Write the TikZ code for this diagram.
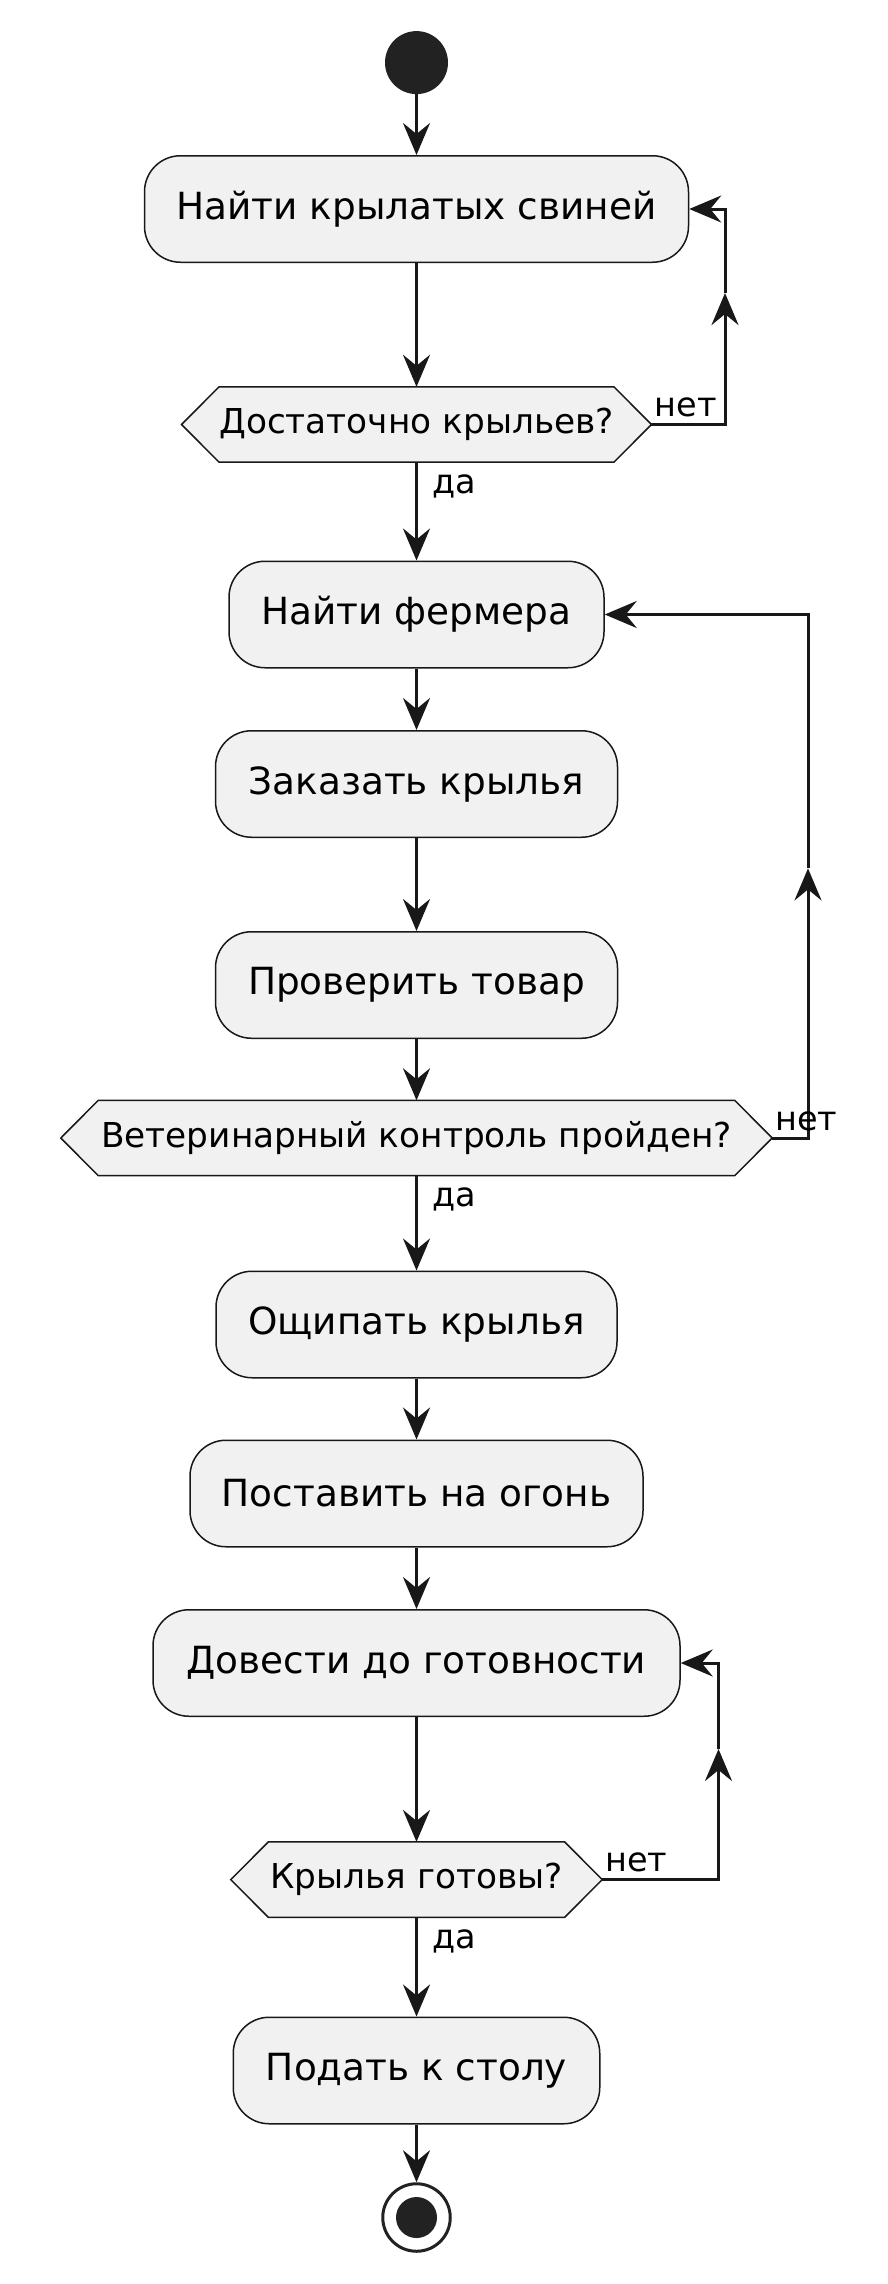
\documentclass[tikz,border=0pt]{standalone}
\usepackage{fontspec}
\setmainfont{DejaVu Sans}
\usetikzlibrary{arrows.meta,backgrounds,calc}
\definecolor{boxfill}{HTML}{F1F1F1}
\definecolor{ink}{HTML}{181818}
\definecolor{dot}{HTML}{222222}
\begin{document}
\begin{tikzpicture}[x=1pt,y=-1pt,
  act/.style={draw=ink, line width=1.5pt, fill=boxfill, rounded corners=36pt, minimum height=106.5pt, inner sep=0pt, font=\fontsize{37.4}{44}\selectfont, text=black},
  dec/.style={minimum height=75pt, inner sep=0pt, font=\fontsize{34.3}{40}\selectfont, text=black},
  hex/.style={draw=ink, line width=1.5pt, fill=boxfill, line join=miter},
  conn/.style={draw=ink, line width=3pt, -{Stealth[length=32pt,width=27pt,inset=11pt]}},
  wire/.style={draw=ink, line width=3pt},
  lab/.style={font=\fontsize{33.5}{40}\selectfont, inner sep=0pt, text=black},
]
\useasboundingbox (0,0) rectangle (888,2284);

\node[circle, fill=dot, minimum size=63pt, inner sep=0pt] (start) at (416.5,62.6) {};
\node[act, minimum width=544pt] (b1) at (416.5,209) {Найти крылатых свиней};
\node[dec, minimum width=469.5pt] (d1) at (416.5,424.5) {Достаточно крыльев?};
\node[act, minimum width=375pt] (b2) at (416.5,614.5) {Найти фермера};
\node[act, minimum width=402pt] (b3) at (416.5,784) {Заказать крылья};
\node[act, minimum width=402pt] (b4) at (416.5,985) {Проверить товар};
\node[dec, minimum width=711pt] (d2) at (416.5,1138) {Ветеринарный контроль пройден?};
\node[act, minimum width=401pt] (b5) at (416.5,1324.5) {Ощипать крылья};
\node[act, minimum width=453pt] (b6) at (416.5,1493.5) {Поставить на огонь};
\node[act, minimum width=527pt] (b7) at (416.5,1663) {Довести до готовности};
\node[dec, minimum width=371pt] (d3) at (416.5,1879.6) {Крылья готовы?};
\node[act, minimum width=366.5pt] (b8) at (416.5,2070.5) {Подать к столу};
\node[circle, draw=dot, line width=3pt, fill=white, minimum size=67.5pt, inner sep=0pt] (end) at (416.5,2217.5) {};
\node[circle, fill=dot, minimum size=41pt, inner sep=0pt] (endin) at (end) {};

\begin{scope}[on background layer]
  \fill[white] (0,0) rectangle (888,2284);
  \foreach \d in {d1,d2,d3}
    \draw[hex] (\d.west) -- ([xshift=37.5pt]\d.north west) -- ([xshift=-37.5pt]\d.north east) -- (\d.east) -- ([xshift=-37.5pt]\d.south east) -- ([xshift=37.5pt]\d.south west) -- cycle;
\end{scope}

% main flow
\draw[conn] (start) -- (b1);
\draw[conn] (b1) -- (d1);
\draw[conn] (d1) -- (b2);
\draw[conn] (b2) -- (b3);
\draw[conn] (b3) -- (b4);
\draw[conn] (b4) -- (d2);
\draw[conn] (d2) -- (b5);
\draw[conn] (b5) -- (b6);
\draw[conn] (b6) -- (b7);
\draw[conn] (b7) -- (d3);
\draw[conn] (d3) -- (b8);
\draw[conn] (b8) -- (end);

% loops
\coordinate (x1) at (725,0);
\coordinate (x2) at (808,0);
\coordinate (x3) at (718.5,0);
\coordinate (m1) at ($(d1.east -| x1)!0.61!(b1.east -| x1)$);
\coordinate (m2) at ($(d2.east -| x2)!0.515!(b2.east -| x2)$);
\coordinate (m3) at ($(d3.east -| x3)!0.603!(b7.east -| x3)$);
\draw[conn] (d1.east) -- (d1.east -| x1) -- (m1);
\draw[conn] (m1) -- (b1.east -| x1) -- (b1.east);
\draw[conn] (d2.east) -- (d2.east -| x2) -- (m2);
\draw[conn] (m2) -- (b2.east -| x2) -- (b2.east);
\draw[conn] (d3.east) -- (d3.east -| x3) -- (m3);
\draw[conn] (m3) -- (b7.east -| x3) -- (b7.east);

% labels
\node[lab, anchor=base west] (n1) at ([xshift=3pt,yshift=8pt]d1.east) {нет};
\node[lab, anchor=base west] (n2) at ([xshift=3pt,yshift=8pt]d2.east) {нет};
\node[lab, anchor=base west] (n3) at ([xshift=3pt,yshift=8pt]d3.east) {нет};
\node[lab, anchor=base west] (y1) at ([xshift=16pt,yshift=-31pt]d1.south) {да};
\node[lab, anchor=base west] (y2) at ([xshift=16pt,yshift=-31pt]d2.south) {да};
\node[lab, anchor=base west] (y3) at ([xshift=16pt,yshift=-31pt]d3.south) {да};
\end{tikzpicture}
\end{document}
